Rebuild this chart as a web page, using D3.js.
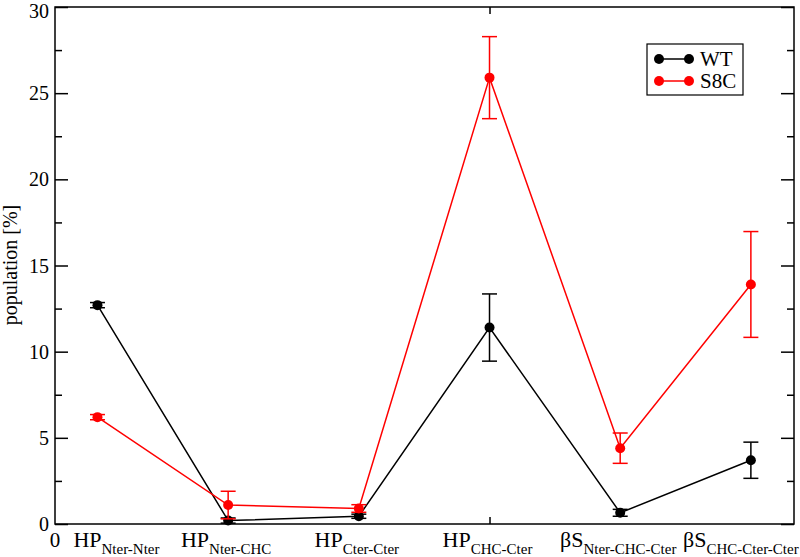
<!DOCTYPE html>
<html><head><meta charset="utf-8">
<script src="https://cdn.jsdelivr.net/npm/d3@7"></script>
<style>body{margin:0;background:#fff}svg{display:block}</style>
</head><body><svg id="c" width="800" height="557" font-family="'Liberation Serif', 'Times New Roman', 'DejaVu Serif', serif"></svg>
<script>
const catMain = ["HP","HP","HP","HP","βS","βS"];
const catSub = ["Nter-Nter","Nter-CHC","Cter-Cter","CHC-Cter","Nter-CHC-Cter","CHC-Cter-Cter"];
const wtValues = [12.7, 0.2, 0.45, 11.4, 0.65, 3.7];
const wtErrors = [0.15, 0.15, 0.12, 1.95, 0.2, 1.05];
const s8cValues = [6.2, 1.1, 0.9, 25.9, 4.4, 13.9];
const s8cErrors = [0.15, 0.8, 0.22, 2.38, 0.88, 3.07];
const yTicks = [0, 5, 10, 15, 20, 25, 30];
const yMinor = [2.5, 7.5, 12.5, 17.5, 22.5, 27.5];
const seriesNames = ["WT", "S8C"];
const seriesColors = ["#000000", "#ff0000"];

const FONT = "'Liberation Serif', 'Times New Roman', 'DejaVu Serif', serif";
const svg = d3.select("#c");
const L = 55, R = 794, T = 7, B = 524;
const x = d3.scaleLinear().domain([-0.325, 5.33]).range([L, R]);
const y = d3.scaleLinear().domain([0, 30]).range([B, T]);

// frame
svg.append("rect").attr("x", L).attr("y", T).attr("width", R - L).attr("height", B - T)
  .attr("fill", "none").attr("stroke", "#000").attr("stroke-width", 1.5);

function ticks(axisFn, scale, vals, size, tr) {
  const g = svg.append("g").attr("transform", tr);
  g.call(axisFn(scale).tickValues(vals).tickSize(size).tickFormat(""));
  g.select(".domain").remove();
  g.selectAll("line").attr("stroke-width", 1.5);
}
ticks(d3.axisRight, y, yTicks, 13, `translate(${L},0)`);
ticks(d3.axisRight, y, yMinor, 7, `translate(${L},0)`);
ticks(d3.axisLeft, y, yTicks, 13, `translate(${R},0)`);
ticks(d3.axisLeft, y, yMinor, 7, `translate(${R},0)`);
ticks(d3.axisTop, x, [3], 7, `translate(0,${B})`);
ticks(d3.axisBottom, x, [3], 7, `translate(0,${T})`);

// y labels
svg.append("g").selectAll("text").data(yTicks).join("text")
  .attr("font-family", FONT)
  .attr("x", L - 6).attr("y", d => Math.max(y(d) + 7, 18))
  .attr("text-anchor", "end").attr("font-size", 20).text(d => d);

// x "0" label
svg.append("text").attr("font-family", FONT).attr("x", L).attr("y", 547)
  .attr("text-anchor", "middle").attr("font-size", 21).text("0");

// category labels
const idx = d3.range(catMain.length);
const lab = svg.append("g").selectAll("text").data(idx).join("text")
  .attr("font-family", FONT)
  .attr("x", i => x(i) + (i === 0 ? 19 : i === 5 ? -10 : -2)).attr("y", 547)
  .attr("text-anchor", "middle").attr("font-size", 22);
lab.append("tspan").text(i => catMain[i]);
lab.append("tspan").attr("font-size", 15).attr("dy", 7).text(i => catSub[i]);

// series
const series = [
  {vals: wtValues, errs: wtErrors, color: seriesColors[0]},
  {vals: s8cValues, errs: s8cErrors, color: seriesColors[1]}
];
const line = d3.line().x((d, i) => x(i)).y(d => y(d));
series.forEach(s => {
  const g = svg.append("g");
  g.append("path").datum(s.vals).attr("d", line).attr("fill", "none")
    .attr("stroke", s.color).attr("stroke-width", 1.5);
  idx.forEach(i => {
    const v = s.vals[i], e = s.errs[i], cx = x(i);
    g.append("line").attr("x1", cx).attr("x2", cx).attr("y1", y(v - e)).attr("y2", y(v + e))
      .attr("stroke", s.color).attr("stroke-width", 1.5);
    [v - e, v + e].forEach(ev => {
      g.append("line").attr("x1", cx - 7.5).attr("x2", cx + 7.5).attr("y1", y(ev)).attr("y2", y(ev))
        .attr("stroke", s.color).attr("stroke-width", 1.5);
    });
  });
  g.selectAll("circle").data(s.vals).join("circle")
    .attr("cx", (d, i) => x(i)).attr("cy", d => y(d)).attr("r", 5).attr("fill", s.color);
});

// axis title
svg.append("text").attr("font-family", FONT).attr("transform", "translate(17,265) rotate(-90)")
  .attr("text-anchor", "middle").attr("font-size", 20).text("population [%]");

// legend
const lg = svg.append("g");
lg.append("rect").attr("x", 647).attr("y", 44).attr("width", 96).attr("height", 51)
  .attr("fill", "#fff").attr("stroke", "#000").attr("stroke-width", 1.2);
seriesNames.forEach((n, k) => {
  const ly = 59 + k * 22;
  lg.append("line").attr("x1", 659).attr("x2", 689).attr("y1", ly).attr("y2", ly)
    .attr("stroke", seriesColors[k]).attr("stroke-width", 1.5);
  [659, 689].forEach(cx => lg.append("circle").attr("cx", cx).attr("cy", ly).attr("r", 5).attr("fill", seriesColors[k]));
  lg.append("text").attr("font-family", FONT).attr("x", 700).attr("y", ly).attr("dy", "0.35em")
    .attr("font-size", 21).text(n);
});
</script></body></html>
